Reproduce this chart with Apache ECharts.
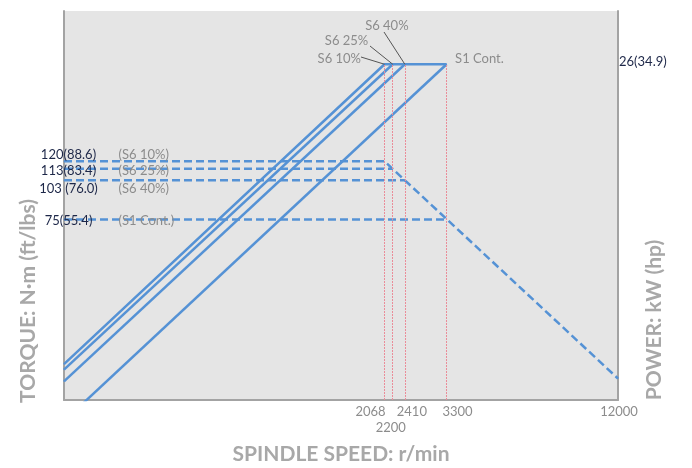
<!DOCTYPE html>
<html style="height: 100%">
<head>
    <meta charset="utf-8">
</head>
<body style="height: 100%; margin: 0">
    <div id="container" style="width: 692px; height: 468px"></div>
    <script src="https://cdn.jsdelivr.net/npm/echarts@6/dist/echarts.min.js"></script>
    <script>
        // duty types, in drawing order
        const dutyNames = ['S6 10%', 'S6 25%', 'S6 40%', 'S1 Cont.'];
        const torqueLabels = ['120(88.6)', '113(83.4)', '103 (76.0)', '75(55.4)'];
        const powerLabel = '26(34.9)';
        const speedTicks = [2068, 2200, 2410, 3300, 12000];
        const baseSpeeds = [2068, 2200, 2410, 3300];
        const ratedPower = 26;

        // torque curves [r/min, N·m]
        const torqueData = [
            [[185, 120], [2068, 120], [12000, 20.7]],
            [[185, 113], [2200, 113]],
            [[185, 103], [2410, 103]],
            [[185, 75], [3300, 75]]
        ];
        // power curves [r/min, kW]
        const powerData = [
            [[185, 2.3], [2068, 26], [3300, 26]],
            [[185, 2.2], [2200, 26]],
            [[185, 2.0], [2410, 26]],
            [[185, 1.45], [3300, 26]]
        ];

        const speedRange = [185, 12000];
        const torqueRange = [17.4, 405];
        const powerRange = [1.72, 40];

        const font = 'Lato';
        const blue = '#5592d5';
        const gray = '#8c8c8c';
        const navy = '#1d2748';
        const titleGray = '#a8a8a8';
        const axisGray = '#a3a3a3';

        const rowDy = [-7, 2, 9, 1];
        // where the S6 labels sit, and the pixel end of their leader lines
        const dutyLabelLayout = [
            { position: 'left', dx: -18, dy: -5, lead: [361, 57] },
            { position: 'left', dx: -19, dy: -23, lead: [370, 46] },
            { position: 'top', dx: -18, dy: -26, lead: [384, 32] }
        ];
        const tickPadding = [[0, 28, 0, 0], [16, 4, 0, 0], [0, 0, 0, 14], [0, 0, 0, 22], [0, 0, 0, 2]];

        const series = [];
        dutyNames.forEach((name, i) => {
            series.push({
                name: name + ' torque',
                type: 'line',
                yAxisIndex: 0,
                symbol: 'circle',
                symbolSize: 1,
                animation: false,
                silent: true,
                z: 3,
                lineStyle: { color: blue, width: 2.5, type: [8, 4] },
                itemStyle: { color: blue },
                label: {
                    show: false,
                    position: 'right',
                    distance: 0,
                    fontFamily: font,
                    rich: {
                        n: { width: 60, align: 'right', color: navy, fontSize: 13, fontFamily: font },
                        g: { color: gray, fontSize: 13, fontFamily: font, padding: [0, 0, 0, 20] }
                    }
                },
                data: torqueData[i].map((p, j) => j === 0 ? {
                    value: p,
                    label: {
                        show: true,
                        offset: [-26, rowDy[i]],
                        formatter: '{n|' + torqueLabels[i] + '}{g|(' + name + ')}'
                    }
                } : p)
            });
        });

        dutyNames.forEach((name, i) => {
            const isS1 = i === 3;
            const s = {
                name: name + ' power',
                type: 'line',
                yAxisIndex: 1,
                symbol: 'circle',
                symbolSize: 1,
                animation: false,
                silent: true,
                z: 4,
                lineStyle: { color: blue, width: 2.5 },
                itemStyle: { color: blue },
                label: {
                    show: false,
                    formatter: name,
                    color: gray,
                    fontSize: 13,
                    fontFamily: font,
                    position: isS1 ? 'right' : dutyLabelLayout[i].position,
                    distance: isS1 ? 8 : 5,
                    offset: isS1 ? [0, -5] : [0, 0]
                },
                data: powerData[i].map((p, j) => j === 1 ? { value: p, label: { show: true } } : p)
            };
            if (!isS1) {
                const lay = dutyLabelLayout[i];
                s.labelLayout = { dx: lay.dx, dy: lay.dy };
                s.markLine = {
                    symbol: 'none',
                    silent: true,
                    animation: false,
                    lineStyle: { color: '#555', width: 1, type: 'solid' },
                    label: { show: false },
                    data: [[{ coord: powerData[i][1] }, { x: lay.lead[0], y: lay.lead[1] }]]
                };
            } else {
                s.markLine = {
                    symbol: 'none',
                    silent: true,
                    animation: false,
                    lineStyle: { color: '#ea8d99', width: 1, type: [2, 1] },
                    label: {
                        position: 'start',
                        distance: 5,
                        color: gray,
                        fontSize: 13,
                        fontFamily: font
                    },
                    data: speedTicks.map((v, k) => [
                        {
                            coord: [v, powerRange[0]],
                            label: { formatter: String(v), padding: tickPadding[k] },
                            lineStyle: baseSpeeds.includes(v) ? {} : { color: 'rgba(0,0,0,0)' }
                        },
                        { coord: [v, ratedPower] }
                    ])
                };
                s.markPoint = {
                    symbol: 'circle',
                    symbolSize: 0,
                    silent: true,
                    animation: false,
                    label: {
                        show: true,
                        position: 'right',
                        distance: 1,
                        offset: [0, -2],
                        formatter: powerLabel,
                        color: navy,
                        fontSize: 13,
                        fontFamily: font
                    },
                    data: [{ coord: [speedRange[1], ratedPower] }]
                };
            }
            series.push(s);
        });

        const dom = document.getElementById('container');
        const myChart = echarts.init(dom, null, { renderer: 'canvas' });

        const titleFont = 'bold 21px Lato';

        const option = {
            animation: false,
            backgroundColor: '#fff',
            textStyle: { fontFamily: font },
            grid: {
                left: 64,
                right: 74,
                top: 11,
                bottom: 68,
                show: true,
                backgroundColor: '#e5e5e5',
                borderWidth: 0,
                outerBoundsMode: 'none'
            },
            xAxis: {
                type: 'log',
                logBase: 10,
                min: speedRange[0],
                max: speedRange[1],
                name: 'SPINDLE SPEED: r/min',
                nameLocation: 'middle',
                nameGap: 44,
                nameTextStyle: { color: titleGray, fontSize: 21, fontWeight: 'bold', fontFamily: font },
                axisLine: { show: true, onZero: false, lineStyle: { color: axisGray, width: 2 } },
                axisTick: { show: false },
                axisLabel: { show: false },
                splitLine: { show: false },
                minorTick: { show: false },
                minorSplitLine: { show: false }
            },
            yAxis: [
                {
                    type: 'log',
                    logBase: 10,
                    position: 'left',
                    min: torqueRange[0],
                    max: torqueRange[1],
                    axisLine: { show: true, onZero: false, lineStyle: { color: axisGray, width: 2 } },
                    axisTick: { show: false },
                    axisLabel: { show: false },
                    splitLine: { show: false }
                },
                {
                    type: 'log',
                    logBase: 10,
                    position: 'right',
                    min: powerRange[0],
                    max: powerRange[1],
                    axisLine: { show: true, onZero: false, lineStyle: { color: axisGray, width: 2 } },
                    axisTick: { show: false },
                    axisLabel: { show: false },
                    splitLine: { show: false }
                }
            ],
            graphic: [
                {
                    type: 'text',
                    x: 28,
                    y: 301,
                    rotation: Math.PI / 2,
                    style: {
                        text: 'TORQUE: N·m (ft/lbs)',
                        fill: titleGray,
                        font: titleFont,
                        align: 'center',
                        verticalAlign: 'middle'
                    }
                },
                {
                    type: 'text',
                    x: 654,
                    y: 320,
                    rotation: Math.PI / 2,
                    style: {
                        text: 'POWER: kW (hp)',
                        fill: titleGray,
                        font: titleFont,
                        align: 'center',
                        verticalAlign: 'middle'
                    }
                }
            ],
            series: series
        };

        myChart.setOption(option);
    </script>
</body>
</html>
